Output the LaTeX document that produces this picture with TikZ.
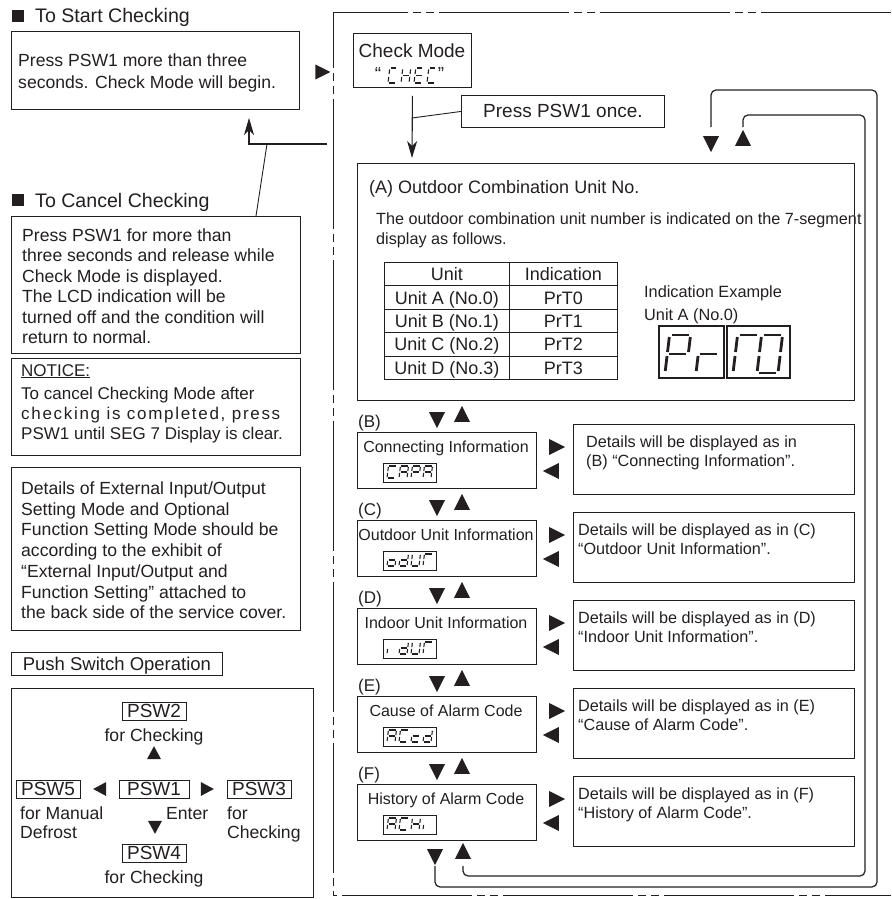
\documentclass[tikz,border=0pt]{standalone}
\usepackage{fontspec}
\setmainfont{Liberation Sans}
\usetikzlibrary{arrows.meta,shapes.geometric}
\definecolor{ink}{HTML}{231F20}

% one segment of a seven-segment character (a..g, clockwise from the top, g = middle)
\newcommand\segpiece[1]{%
  \if a#1\draw[segline] (0,1) -- (1,1);\fi
  \if b#1\draw[segline] (1,1) -- (1,.5);\fi
  \if c#1\draw[segline] (1,.5) -- (1,0);\fi
  \if d#1\draw[segline] (0,0) -- (1,0);\fi
  \if e#1\draw[segline] (0,.5) -- (0,0);\fi
  \if f#1\draw[segline] (0,1) -- (0,.5);\fi
  \if g#1\draw[segline] (0,.5) -- (1,.5);\fi}
% #1,#2 bottom-left corner, #3 width, #4 height, #5 segments, #6 line style
\newcommand\segglyph[6]{%
  \begin{scope}[shift={(#1,#2)},x=#3pt,y=#4pt,xslant=0.12,segline/.style={#6}]
    \foreach \s in {#5}{\segpiece{\s}}
  \end{scope}}

\begin{document}
\begin{tikzpicture}[x=1pt,y=-1pt,
  every node/.style={text=ink},
  panel/.style={draw=ink,line width=0.9pt,inner sep=0pt,anchor=north west},
  sq/.style={fill=ink,inner sep=0pt,minimum size=12pt,anchor=north west},
  head/.style={inner sep=0pt,anchor=base west,font=\fontsize{19.6pt}{22pt}\selectfont},
  txt/.style={inner sep=0pt,anchor=base west,align=left,font=\fontsize{17.6pt}{20.4pt}\selectfont},
  ctr/.style={inner sep=0pt,anchor=base,font=\fontsize{17.6pt}{20pt}\selectfont},
  psw/.style={draw=ink,line width=0.8pt,inner sep=0pt,minimum width=64pt,minimum height=18pt,
    text height=13.5pt,text depth=0pt,font=\fontsize{19pt}{19pt}\selectfont},
  cell/.style={draw=ink,line width=0.9pt,inner sep=0pt,anchor=north west,minimum height=23.4pt,
    text height=13pt,text depth=0pt,font=\fontsize{18pt}{18pt}\selectfont},
  rowtag/.style={inner sep=0pt,anchor=base west,font=\fontsize{17pt}{17pt}\selectfont},
  rowtitle/.style={inner sep=0pt,anchor=base,font=\fontsize{16pt}{16pt}\selectfont},
  dtxt/.style={inner sep=0pt,anchor=base west,align=left,font=\fontsize{16.2pt}{18.5pt}\selectfont},
  tri/.style={isosceles triangle,isosceles triangle stretches,fill=ink,draw=none,inner sep=0pt,
    minimum width=16pt,minimum height=16pt},
  tridn/.style={tri,shape border rotate=270},
  triup/.style={tri,shape border rotate=90},
  trirt/.style={tri,shape border rotate=0},
  trilt/.style={tri,shape border rotate=180},
  trismall/.style={minimum width=14pt,minimum height=13pt},
  thinline/.style={draw=ink,line width=0.9pt},
  arrowline/.style={draw=ink,line width=1.1pt,-{Stealth[length=17pt,width=10pt,inset=5pt]}},
  loopline/.style={draw=ink,line width=1.2pt,rounded corners=5pt},
  outerframe/.style={draw=ink,line width=1pt,dash pattern=on 130pt off 5pt on 8pt off 5pt on 8pt off 5pt},
  segsmall/.style={draw=ink,line width=1.1pt,shorten >=0.9pt,shorten <=0.9pt},
  segcheck/.style={draw=ink,line width=1.1pt,shorten >=1.4pt,shorten <=1.4pt},
  segbig/.style={draw=ink,line width=2.8pt,shorten >=2pt,shorten <=2pt}]

\useasboundingbox (0,0) rectangle (891,899);

% ---------------- left column ----------------
% (multi-line texts are placed by the baseline of their last line)
\node[sq] (startsq) at (12,10) {};
\node[head] (starthead) at (35,23) {To Start Checking};
\node[panel,minimum width=288pt,minimum height=78pt] (startbox) at (11,31) {};
\node[txt,font=\fontsize{17.6pt}{22pt}\selectfont] (starttext) at (18,88.5)
  {Press PSW1 more than three\\seconds. Check Mode will begin.};
\node[trirt,minimum width=15pt,minimum height=15pt] (starttri) at (320,72) {};

\coordinate (retstart) at (327,144);
\coordinate (rettip) at (249,118);
\coordinate (retjoin) at (267,144);
\coordinate (cancelleader) at (256,216);
\draw[arrowline] (retstart) -| (rettip);
\draw[thinline] (retjoin) -- (cancelleader);

\node[sq] (cancelsq) at (12,194) {};
\node[head] (cancelhead) at (35,207) {To Cancel Checking};
\node[panel,minimum width=289pt,minimum height=137pt] (cancelbox) at (11,216) {};
\node[txt] (canceltext) at (22,343.5)
  {Press PSW1 for more than\\three seconds and release while\\Check Mode is displayed.\\The LCD indication will be\\turned off and the condition will\\return to normal.};

\node[panel,minimum width=289pt,minimum height=97pt] (noticebox) at (11,358) {};
\node[txt,font=\fontsize{17pt}{20pt}\selectfont] (noticehead) at (21,376) {\underline{NOTICE:}};
\node[txt,font=\fontsize{17pt}{20pt}\selectfont] (noticetext) at (21,439.5)
  {To cancel Checking Mode after\\{\addfontfeature{LetterSpace=10}checking is completed, press}\\PSW1 until SEG 7 Display is clear.};

\node[panel,minimum width=289pt,minimum height=163pt] (exhibitbox) at (11,467) {};
\node[txt,font=\fontsize{17.6pt}{20.7pt}\selectfont] (exhibittext) at (21,618.7)
  {Details of External Input/Output\\Setting Mode and Optional\\Function Setting Mode should be\\according to the exhibit of\\“External Input/Output and\\Function Setting” attached to\\the back side of the service cover.};

% push switch layout
\node[panel,minimum width=211pt,minimum height=23pt,text height=13.3pt,text depth=0pt,
  font=\fontsize{18.5pt}{18.5pt}\selectfont] (pushtitle) at (11,652) {Push Switch Operation};
\node[panel,minimum width=302pt,minimum height=209pt] (pushbox) at (11,688) {};
\node[psw] (psw2) at (154,711) {PSW2};
\node[ctr] (psw2lbl) at (154,741.3) {for Checking};
\node[triup,trismall] (psw2tri) at (154,755) {};
\node[psw] (psw5) at (48,789) {PSW5};
\node[trilt,trismall] (psw5tri) at (102,789) {};
\node[psw,minimum width=70pt] (psw1) at (154,789) {PSW1};
\node[trirt,trismall] (psw3tri) at (205,789) {};
\node[psw] (psw3) at (259,789) {PSW3};
\node[txt,font=\fontsize{17.6pt}{19pt}\selectfont] (psw5lbl) at (20,838.3) {for Manual\\Defrost};
\node[tridn,trismall] (psw4tri) at (155,825) {};
\node[txt] (enterlbl) at (166,819.3) {Enter};
\node[txt,font=\fontsize{17.6pt}{19pt}\selectfont] (psw3lbl) at (227,838.3) {for\\Checking};
\node[psw] (psw4) at (154,853) {PSW4};
\node[ctr] (psw4lbl) at (154,883.3) {for Checking};

% ---------------- check mode frame ----------------
\draw[outerframe] (891,13) -- (333,13) -- (333,895) -- (891,895);

\node[panel,minimum width=118pt,minimum height=54pt] (checkpanel) at (353,33) {};
\node[inner sep=0pt,anchor=base,font=\fontsize{19pt}{19pt}\selectfont] (checktitle) at (412,57) {Check Mode};
\node[inner sep=0pt,anchor=base,font=\fontsize{19pt}{19pt}\selectfont] (checkq1) at (378,81) {“};
\node[inner sep=0pt,anchor=base,font=\fontsize{19pt}{19pt}\selectfont] (checkq2) at (441,81) {”};
\segglyph{388}{83}{8}{15}{a,f,e,d}{segcheck}
\segglyph{401}{83}{8}{15}{b,c,e,f,g}{segcheck}
\segglyph{414}{83}{8}{15}{a,f,e,d,g}{segcheck}
\segglyph{427}{83}{8}{15}{a,f,e,d}{segcheck}

\coordinate (checkdown) at (412,158);
\draw[arrowline] ([yshift=-8pt]checkpanel.south) -- (checkdown);
\node[panel,minimum width=203pt,minimum height=32pt,font=\fontsize{19pt}{19pt}\selectfont] (pressnote) at (461,95) {Press PSW1 once.};
\coordinate (checkjoin) at (412,118);
\draw[thinline] (checkjoin) -- (pressnote.west);

\node[tridn] (topdn) at (711,141) {};
\node[triup] (topup) at (743,141) {};

% (A) outdoor combination unit
\node[panel,minimum width=497pt,minimum height=237pt] (boxA) at (357,163) {};
\node[inner sep=0pt,anchor=base west,font=\fontsize{18pt}{18pt}\selectfont] (headA) at (369,193.5) {(A) Outdoor Combination Unit No.};
\node[dtxt,font=\fontsize{16.2pt}{20pt}\selectfont] (descA) at (376,244)
  {The outdoor combination unit number is indicated on the 7-segment\\display as follows.};

\node[cell,minimum width=125pt] (t00) at (384,262) {Unit};
\node[cell,minimum width=108pt] (t01) at (509,262) {Indication};
\node[cell,minimum width=125pt] (t10) at (384,285.4) {Unit A (No.0)};
\node[cell,minimum width=108pt] (t11) at (509,285.4) {PrT0};
\node[cell,minimum width=125pt] (t20) at (384,308.8) {Unit B (No.1)};
\node[cell,minimum width=108pt] (t21) at (509,308.8) {PrT1};
\node[cell,minimum width=125pt] (t30) at (384,332.2) {Unit C (No.2)};
\node[cell,minimum width=108pt] (t31) at (509,332.2) {PrT2};
\node[cell,minimum width=125pt] (t40) at (384,355.6) {Unit D (No.3)};
\node[cell,minimum width=108pt] (t41) at (509,355.6) {PrT3};

\node[dtxt,font=\fontsize{16.3pt}{23pt}\selectfont] (exampleA) at (644,320.8) {Indication Example\\Unit A (No.0)};
\node[panel,line width=1.8pt,minimum width=65pt,minimum height=52pt] (dispA1) at (658,325) {};
\node[panel,line width=1.8pt,minimum width=63pt,minimum height=52pt] (dispA2) at (726,325) {};
\segglyph{665}{373}{21}{38}{a,b,e,f,g}{segbig}
\segglyph{696}{373}{21}{38}{e,g}{segbig}
\segglyph{733}{373}{21}{38}{a,e,f}{segbig}
\segglyph{757}{373}{21}{38}{a,b,c,d,e,f}{segbig}

% (B) connecting information
\node[rowtag] (tagB) at (358,427) {(B)};
\node[tridn] (dnB) at (437,417) {};
\node[triup] (upB) at (462,417) {};
\node[panel,minimum width=179pt,minimum height=56pt] (boxB) at (357,432) {};
\node[rowtitle] (titleB) at (446,452.7) {Connecting Information};
\node[panel,line width=0.8pt,minimum width=53pt,minimum height=19pt] (dispB) at (383,463) {};
\segglyph{387}{478}{8}{12}{a,f,e,d}{segsmall}
\segglyph{399}{478}{8}{12}{a,b,c,e,f,g}{segsmall}
\segglyph{411}{478}{8}{12}{a,b,e,f,g}{segsmall}
\segglyph{423}{478}{8}{12}{a,b,c,e,f,g}{segsmall}
\node[trirt] (toB) at (554,447) {};
\node[trilt] (fromB) at (554,471) {};
\node[panel,minimum width=281pt,minimum height=70pt] (detB) at (573,424) {};
\node[dtxt] (detBtext) at (586,466.3) {Details will be displayed as in\\(B) “Connecting Information”.};

% (C) outdoor unit information
\node[rowtag] (tagC) at (358,515) {(C)};
\node[tridn] (dnC) at (437,505) {};
\node[triup] (upC) at (462,505) {};
\node[panel,minimum width=179pt,minimum height=56pt] (boxC) at (357,520) {};
\node[rowtitle] (titleC) at (446,540.7) {Outdoor Unit Information};
\node[panel,line width=0.8pt,minimum width=53pt,minimum height=19pt] (dispC) at (383,551) {};
\segglyph{387}{566}{8}{12}{c,d,e,g}{segsmall}
\segglyph{399}{566}{8}{12}{b,c,d,e,g}{segsmall}
\segglyph{411}{566}{8}{12}{b,c,d,e,f}{segsmall}
\segglyph{423}{566}{8}{12}{a,e,f}{segsmall}
\node[trirt] (toC) at (554,535) {};
\node[trilt] (fromC) at (554,559) {};
\node[panel,minimum width=281pt,minimum height=70pt] (detC) at (573,512) {};
\node[dtxt] (detCtext) at (578,554.3) {Details will be displayed as in (C)\\“Outdoor Unit Information”.};

% (D) indoor unit information
\node[rowtag] (tagD) at (358,603) {(D)};
\node[tridn] (dnD) at (437,593) {};
\node[triup] (upD) at (462,593) {};
\node[panel,minimum width=179pt,minimum height=56pt] (boxD) at (357,608) {};
\node[rowtitle] (titleD) at (446,628.7) {Indoor Unit Information};
\node[panel,line width=0.8pt,minimum width=53pt,minimum height=19pt] (dispD) at (383,639) {};
\segglyph{387}{654}{8}{12}{e}{segsmall}
\segglyph{399}{654}{8}{12}{b,c,d,e,g}{segsmall}
\segglyph{411}{654}{8}{12}{b,c,d,e,f}{segsmall}
\segglyph{423}{654}{8}{12}{a,e,f}{segsmall}
\node[trirt] (toD) at (554,623) {};
\node[trilt] (fromD) at (554,647) {};
\node[panel,minimum width=281pt,minimum height=70pt] (detD) at (573,600) {};
\node[dtxt] (detDtext) at (578,642.3) {Details will be displayed as in (D)\\“Indoor Unit Information”.};

% (E) cause of alarm code
\node[rowtag] (tagE) at (358,691) {(E)};
\node[tridn] (dnE) at (437,681) {};
\node[triup] (upE) at (462,681) {};
\node[panel,minimum width=179pt,minimum height=56pt] (boxE) at (357,696) {};
\node[rowtitle] (titleE) at (446,716.7) {Cause of Alarm Code};
\node[panel,line width=0.8pt,minimum width=53pt,minimum height=19pt] (dispE) at (383,727) {};
\segglyph{387}{742}{8}{12}{a,b,c,e,f,g}{segsmall}
\segglyph{399}{742}{8}{12}{a,f,e,d}{segsmall}
\segglyph{411}{742}{8}{12}{d,e,g}{segsmall}
\segglyph{423}{742}{8}{12}{b,c,d,e,g}{segsmall}
\node[trirt] (toE) at (554,711) {};
\node[trilt] (fromE) at (554,735) {};
\node[panel,minimum width=281pt,minimum height=70pt] (detE) at (573,688) {};
\node[dtxt] (detEtext) at (578,730.3) {Details will be displayed as in (E)\\“Cause of Alarm Code”.};

% (F) history of alarm code
\node[rowtag] (tagF) at (358,779) {(F)};
\node[tridn] (dnF) at (437,769) {};
\node[triup] (upF) at (462,769) {};
\node[panel,minimum width=179pt,minimum height=56pt] (boxF) at (357,784) {};
\node[rowtitle] (titleF) at (446,804.7) {History of Alarm Code};
\node[panel,line width=0.8pt,minimum width=53pt,minimum height=19pt] (dispF) at (383,815) {};
\segglyph{387}{830}{8}{12}{a,b,c,e,f,g}{segsmall}
\segglyph{399}{830}{8}{12}{a,f,e,d}{segsmall}
\segglyph{411}{830}{8}{12}{b,c,e,f,g}{segsmall}
\segglyph{423}{830}{8}{12}{e}{segsmall}
\node[trirt] (toF) at (554,799) {};
\node[trilt] (fromF) at (554,823) {};
\node[panel,minimum width=281pt,minimum height=70pt] (detF) at (573,776) {};
\node[dtxt] (detFtext) at (578,818.3) {Details will be displayed as in (F)\\“History of Alarm Code”.};

% return loops from the last item back to the top
\node[tridn] (botdn) at (435,854) {};
\node[triup] (botup) at (463,854) {};
\draw[loopline] ([yshift=14pt]topdn.center) |- (877,90) -- (877,887) -| ([yshift=-12pt]botdn.center);
\draw[loopline] ([yshift=14pt]topup.center) |- (865,115) -- (865,876) -| ([yshift=-12pt]botup.center);

\end{tikzpicture}
\end{document}
